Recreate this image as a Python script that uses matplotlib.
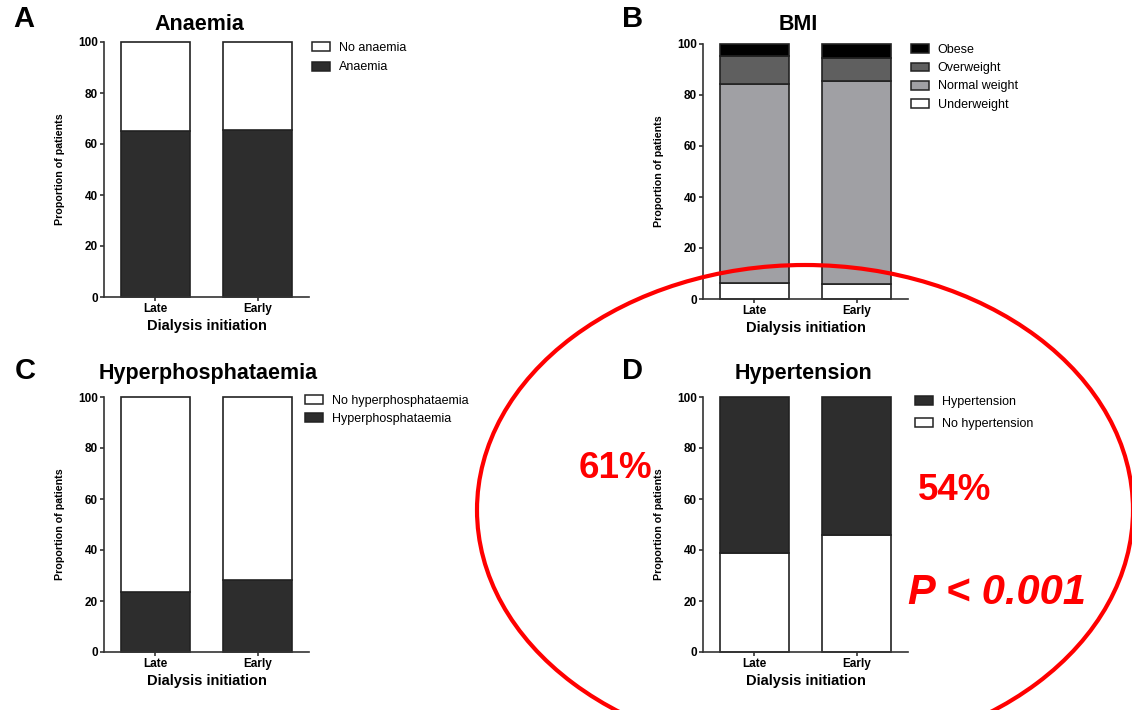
import matplotlib
matplotlib.use('Agg')
from matplotlib import pyplot as plt
from matplotlib.patches import Patch, Ellipse

plt.rcParams['font.family'] = ['Liberation Sans', 'DejaVu Sans']

groups = ['Late', 'Early']

# A - anaemia
anaemia = [65.1, 65.6]
no_anaemia = [34.9, 34.4]

# B - BMI
underweight = [6.3, 5.8]
normal_weight = [77.9, 79.5]
overweight = [10.9, 9.4]
obese = [4.9, 5.3]

# C - hyperphosphataemia
hyperphos = [23.7, 28.2]
no_hyperphos = [76.3, 71.8]

# D - hypertension
no_htn = [38.8, 45.9]
htn = [61.2, 54.1]

W, H = 1132, 710
fig = plt.figure(figsize=(W / 100, H / 100), dpi=100)

DARK = '#2d2d2d'
EDGE = '#222222'


def make_axes(left, top, right, bottom):
    ax = fig.add_axes([left / W, 1 - bottom / H, (right - left) / W, (bottom - top) / H])
    ax.set_xlim(-0.5, 1.5)
    ax.set_ylim(0, 100)
    ax.set_yticks([0, 20, 40, 60, 80, 100])
    ax.set_xticks([0, 1])
    ax.set_xticklabels(groups)
    for s in ['top', 'right']:
        ax.spines[s].set_visible(False)
    for s in ['left', 'bottom']:
        ax.spines[s].set_linewidth(1.2)
        ax.spines[s].set_color('#333333')
    ax.tick_params(axis='both', length=3, width=1.2, color='#333333', labelsize=8.5, pad=1.5)
    for lab in ax.get_xticklabels() + ax.get_yticklabels():
        lab.set_fontweight('bold')
    ax.set_ylabel('Proportion of patients', fontsize=7.7, fontweight='bold')
    ax.yaxis.set_label_coords(-0.19, 0.5)
    ax.set_xlabel('Dialysis initiation', fontsize=10.5, fontweight='bold', labelpad=2.5)
    return ax


def stack(ax, layers):
    bottom = [0, 0]
    for vals, color in layers:
        ax.bar([0, 1], vals, width=0.67, bottom=bottom, color=color,
               edgecolor=EDGE, linewidth=1.2, clip_on=False, zorder=2)
        bottom = [b + v for b, v in zip(bottom, vals)]


def legend(ax, items, x, y, spacing):
    handles = [Patch(facecolor=c, edgecolor=EDGE, linewidth=1.1, label=l) for l, c in items]
    ax.legend(handles=handles, loc='upper left', bbox_to_anchor=(x / W, 1 - y / H),
              bbox_transform=fig.transFigure, frameon=False, fontsize=9,
              handlelength=1.45, handleheight=0.7, handletextpad=0.7,
              labelspacing=spacing, borderpad=0, borderaxespad=0)


# Panel A
axA = make_axes(104, 42, 309, 297)
stack(axA, [(anaemia, DARK), (no_anaemia, 'white')])
legend(axA, [('No anaemia', 'white'), ('Anaemia', DARK)], 312, 42, 0.6)

# Panel B
axB = make_axes(703, 44, 908, 299)
stack(axB, [(underweight, 'white'), (normal_weight, '#a0a0a4'),
            (overweight, '#5f5f5f'), (obese, '#000000')])
legend(axB, [('Obese', '#000000'), ('Overweight', '#5f5f5f'),
             ('Normal weight', '#a0a0a4'), ('Underweight', 'white')], 911, 44, 0.5)

# Panel C
axC = make_axes(104, 397, 309, 652)
stack(axC, [(hyperphos, DARK), (no_hyperphos, 'white')])
legend(axC, [('No hyperphosphataemia', 'white'), ('Hyperphosphataemia', DARK)], 305, 395, 0.45)

# Panel D
axD = make_axes(703, 397, 908, 652)
stack(axD, [(no_htn, 'white'), (htn, DARK)])
legend(axD, [('Hypertension', DARK), ('No hypertension', 'white')], 915, 396, 0.8)

# titles and panel letters
titles = [('Anaemia', 199, 24), ('BMI', 798, 24),
          ('Hyperphosphataemia', 208, 374), ('Hypertension', 803, 374)]
for t, x, y in titles:
    fig.text(x / W, 1 - y / H, t, ha='center', va='center', fontsize=15.5, fontweight='bold')

letters = [('A', 24, 19), ('B', 633, 19), ('C', 25, 371), ('D', 633, 371)]
for t, x, y in letters:
    fig.text(x / W, 1 - y / H, t, ha='center', va='center', fontsize=21, fontweight='bold')

# red annotation
fig.add_artist(Ellipse((805 / W, 1 - 510 / H), 656 / W, 490 / H, transform=fig.transFigure,
                       fill=False, edgecolor='#ff0000', linewidth=3))
fig.text(615 / W, 1 - 469 / H, '61%', ha='center', va='center', fontsize=26.5,
         fontweight='bold', color='#ff0000')
fig.text(955 / W, 1 - 490 / H, '54%', ha='center', va='center', fontsize=26.5,
         fontweight='bold', color='#ff0000')
fig.text(997 / W, 1 - 593 / H, 'P < 0.001', ha='center', va='center', fontsize=30,
         fontweight='bold', fontstyle='italic', color='#ff0000')

fig.savefig('out.png', dpi=100)
